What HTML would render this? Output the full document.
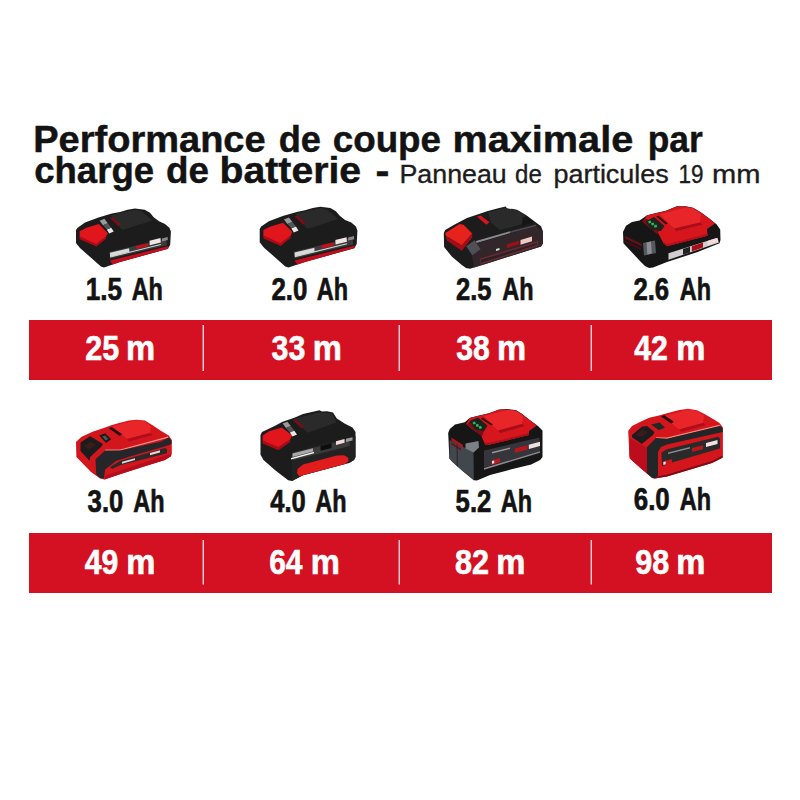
<!DOCTYPE html>
<html><head><meta charset="utf-8"><title>Performance de coupe</title>
<style>
html,body{margin:0;padding:0;background:#fff;}
body{width:800px;height:800px;overflow:hidden;font-family:"Liberation Sans",sans-serif;}
svg{display:block;}
svg text{font-family:"Liberation Sans",sans-serif;}
</style></head><body>
<svg width="800" height="800" viewBox="0 0 800 800">
<rect width="800" height="800" fill="#fff"/>
<rect x="29" y="320" width="743" height="60" fill="#d41122"/>
<rect x="29" y="533" width="743" height="60" fill="#d41122"/>
<rect x="202.6" y="325" width="1.3" height="46" fill="#fff" fill-opacity="0.88"/>
<rect x="202.6" y="540" width="1.3" height="44.5" fill="#fff" fill-opacity="0.88"/>
<rect x="398.6" y="325" width="1.3" height="46" fill="#fff" fill-opacity="0.88"/>
<rect x="398.6" y="540" width="1.3" height="44.5" fill="#fff" fill-opacity="0.88"/>
<rect x="590.6" y="325" width="1.3" height="46" fill="#fff" fill-opacity="0.88"/>
<rect x="590.6" y="540" width="1.3" height="44.5" fill="#fff" fill-opacity="0.88"/>
<defs><filter id="bl" x="-5%" y="-5%" width="110%" height="110%"><feGaussianBlur stdDeviation="0.45"/></filter></defs>
<g filter="url(#bl)">
<polygon points="76.0,230.0 77.6,227.8 85.0,222.6 98.5,217.6 111.9,213.5 120.1,212.0 127.5,209.8 134.9,208.5 144.7,209.8 150.0,212.8 153.7,217.2 159.0,221.3 165.0,223.9 169.4,227.8 170.9,231.5 170.2,244.7 167.9,248.8 120.1,262.0 104.0,267.5 100.9,266.6 80.0,248.0 76.0,243.1" fill="#1c1c1c" />
<polygon points="111.2,215.0 136.0,209.8 141.5,211.6 152.5,220.5 122.2,230.1 112.6,219.1" fill="#2b2b2b" />
<polygon points="79.6,231.2 86.5,227.7 98.9,224.1 107.8,233.2 106.0,236.7 96.1,244.7 79.6,237.0" fill="#e0131f" />
<polygon points="79.6,236.4 96.1,243.9 106.0,236.4 106.0,238.7 96.4,246.6 79.6,239.2" fill="#a80c18" />
<polygon points="99.6,220.8 104.4,218.8 107.8,223.2 103.0,225.3" fill="#9a9a9a" />
<polygon points="106.8,229.4 111.2,227.7 113.7,231.5 109.2,233.6" fill="#e8e8e8" />
<polygon points="103.0,225.3 107.8,223.2 111.2,227.7 106.8,229.4" fill="#555" />
<polygon points="109.9,217.8 112.6,217.1 120.9,224.6 118.1,226.0" fill="#7a0d15" />
<polygon points="109.2,252.1 166.2,238.4 166.9,245.2 109.9,258.7" fill="#3a3a3a" />
<polygon points="109.9,252.8 129.1,248.3 129.4,252.1 110.2,256.9" fill="#d9d9d9" />
<polygon points="136.0,245.9 147.7,243.2 148.0,246.3 136.3,249.1" fill="#c8101c" />
<polygon points="149.5,240.8 160.5,238.1 160.8,242.5 149.8,245.2" fill="#f0e4e4" />
<polygon points="161.9,238.4 167.6,237.0 167.8,240.0 162.0,241.4" fill="#888" />
<polygon points="110.2,256.4 160.8,244.0 160.9,245.0 110.3,257.5" fill="#cfd6d6" />
<polygon points="109.9,260.6 167.9,246.3 168.3,248.7 120.1,262.0 112.6,264.6" fill="#c20f1c" />
</g>
<g filter="url(#bl)">
<polygon points="259.7,228.9 261.2,226.6 268.9,221.2 282.8,216.1 296.7,211.9 305.0,210.3 312.7,208.0 320.3,206.8 330.4,208.0 335.9,211.2 339.7,215.7 345.1,219.9 351.3,222.6 355.9,226.6 357.4,230.4 356.7,244.0 354.3,248.3 305.0,261.9 288.4,267.5 285.3,266.5 263.8,247.4 259.7,242.3" fill="#1c1c1c" />
<polygon points="295.9,213.4 321.4,208.0 327.1,209.9 338.4,219.1 307.3,229.0 297.4,217.7" fill="#2b2b2b" />
<polygon points="263.4,230.1 270.5,226.5 283.2,222.8 292.4,232.1 290.6,235.8 280.4,244.0 263.4,236.1" fill="#e0131f" />
<polygon points="263.4,235.5 280.4,243.2 290.6,235.5 290.6,237.8 280.7,246.0 263.4,238.4" fill="#a80c18" />
<polygon points="283.9,219.4 288.9,217.4 292.4,221.9 287.4,224.0" fill="#9a9a9a" />
<polygon points="291.4,228.3 295.9,226.5 298.5,230.4 293.8,232.5" fill="#e8e8e8" />
<polygon points="287.4,224.0 292.4,221.9 295.9,226.5 291.4,228.3" fill="#555" />
<polygon points="294.5,216.3 297.4,215.5 305.9,223.3 303.0,224.8" fill="#7a0d15" />
<polygon points="293.8,251.7 352.6,237.5 353.3,244.6 294.5,258.5" fill="#3a3a3a" />
<polygon points="294.5,252.4 314.4,247.7 314.6,251.7 294.8,256.6" fill="#d9d9d9" />
<polygon points="321.4,245.3 333.5,242.5 333.8,245.7 321.7,248.5" fill="#c8101c" />
<polygon points="335.3,240.0 346.6,237.2 346.9,241.7 335.6,244.6" fill="#f0e4e4" />
<polygon points="348.1,237.5 354.0,236.1 354.2,239.2 348.2,240.6" fill="#888" />
<polygon points="294.8,256.1 346.9,243.3 347.1,244.3 295.0,257.2" fill="#cfd6d6" />
<polygon points="294.5,260.4 354.3,245.7 354.7,248.1 305.0,261.9 297.4,264.6" fill="#c20f1c" />
</g>
<g filter="url(#bl)">
<polygon points="443.8,233.0 445.2,230.0 454.2,224.8 467.0,218.0 478.2,214.2 487.0,211.2 498.2,208.2 505.8,206.6 507.5,209.6 511.8,208.8 517.0,209.8 526.0,215.0 535.0,221.8 541.0,226.2 543.0,231.5 543.0,243.2 541.0,246.4 487.0,263.4 470.0,268.8 466.0,268.0 461.8,265.0 452.0,256.8 444.1,247.0" fill="#1d1d1e" />
<polygon points="476.0,244.0 536.0,226.0 543.0,231.5 543.0,243.2 541.0,246.4 487.0,263.4 474.0,267.5 472.0,256.0" fill="#30282c" />
<polygon points="476.0,241.0 510.0,231.3 510.5,233.0 476.5,243.0" fill="#8a8a8e" />
<polygon points="510.0,231.3 536.0,224.6 536.5,226.0 510.5,233.0" fill="#4a4a4e" />
<polygon points="488.0,212.5 505.0,207.8 517.0,210.3 525.0,215.5 522.3,224.0 500.0,230.0 491.0,222.5" fill="#2b2b2b" />
<polygon points="522.3,217.5 527.0,216.5 534.0,222.0 522.3,225.5" fill="#141414" />
<polygon points="466.2,246.2 474.5,240.2 480.5,249.2 472.2,255.2" fill="#505056" />
<polygon points="445.2,233.0 459.5,224.0 463.5,224.8 472.2,233.5 461.8,245.5 446.0,236.0" fill="#e6201c" />
<polygon points="446.0,236.0 461.8,245.5 472.2,233.5 472.2,237.5 461.8,250.8 446.8,240.5" fill="#a50e16" />
<polygon points="476.8,216.5 480.8,215.5 489.5,222.3 486.3,224.8" fill="#d2141f" />
<polygon points="480.0,258.5 538.0,241.0 538.3,246.0 480.5,264.6" fill="#6a2a30" />
<polygon points="481.0,259.8 537.0,243.0 537.2,244.8 481.2,262.8" fill="#2a2226" />
<polygon points="507.0,244.3 519.0,240.8 519.0,244.3 507.0,248.0" fill="#a01018" />
<polygon points="520.5,240.0 532.0,236.6 532.0,241.3 520.5,244.8" fill="#f0c8c4" />
<polygon points="496.0,249.0 499.5,248.0 499.5,250.0 496.0,251.0" fill="#dddddd" />
</g>
<g filter="url(#bl)">
<polygon points="623.0,232.0 626.0,225.8 632.0,222.0 639.5,220.5 641.8,219.0 647.0,215.2 656.0,213.0 665.8,210.8 676.8,206.2 685.8,206.2 693.2,207.8 700.8,212.2 709.0,218.2 716.5,224.2 720.2,229.5 720.5,240.0 719.5,243.2 697.0,252.2 667.0,262.0 653.0,267.6 649.2,268.0 645.0,266.0 639.5,260.5 623.4,243.2" fill="#161618" />
<polygon points="643.0,221.0 647.0,215.5 656.0,213.3 665.8,211.0 676.8,206.6 685.8,206.6 693.2,208.0 700.8,212.5 709.0,218.5 715.0,223.5 707.0,229.0 707.5,235.8 667.0,246.2 663.5,243.2 657.5,232.0 650.0,228.0" fill="#d6161f" />
<polygon points="660.0,214.0 686.0,207.5 693.0,208.5 701.0,214.0 700.0,222.5 674.5,228.5 667.0,222.0" fill="#e8252c" />
<polygon points="674.5,228.5 700.0,222.5 703.0,224.5 676.0,231.2" fill="#a8101a" />
<polygon points="663.5,241.5 667.0,244.2 707.5,233.7 707.5,235.8 667.0,246.2 663.5,243.2" fill="#b5111b" />
<polygon points="641.8,221.2 646.0,218.3 660.0,230.0 657.0,234.0" fill="#7a1018" />
<polygon points="645.5,221.5 654.0,217.0 664.5,226.0 661.0,231.0 651.0,229.5" fill="#20201c" />
<polygon points="648.0,221.2 650.6,220.4 651.5,222.8 648.9,223.6" fill="#29b95a" />
<polygon points="651.0,223.2 653.6,222.4 654.5,224.8 651.9,225.6" fill="#29b95a" />
<polygon points="653.8,225.4 656.4,224.6 657.3,227.0 654.7,227.8" fill="#29b95a" />
<polygon points="656.0,216.5 658.5,215.7 668.0,223.5 665.7,224.6" fill="#3a0a0e" />
<polygon points="625.0,236.0 642.0,244.0 642.0,246.6 625.0,238.6" fill="#6a1018" />
<polygon points="625.0,240.5 641.0,248.0 641.0,250.0 625.0,242.6" fill="#4a0c12" />
<polygon points="643.0,243.0 655.0,240.5 656.0,253.0 644.0,255.5" fill="#55585e" />
<polygon points="646.5,242.5 651.0,241.6 651.8,253.6 647.3,254.6" fill="#8a8d92" />
<polygon points="668.5,253.2 715.8,238.2 719.0,242.6 668.5,259.8" fill="#cfcfcf" />
<polygon points="683.0,249.0 690.0,246.8 690.0,252.4 683.0,254.8" fill="#222" />
<polygon points="691.8,246.2 703.0,242.6 703.0,247.6 691.8,251.6" fill="#a81019" />
<polygon points="707.5,241.0 717.5,237.8 718.5,241.5 707.5,245.6" fill="#f4dada" />
</g>
<g filter="url(#bl)">
<polygon points="76.0,442.0 81.2,437.0 92.5,431.8 103.8,428.0 112.0,425.0 120.0,422.8 129.0,420.5 136.5,419.8 144.8,420.5 152.2,425.0 161.2,431.0 168.8,435.5 171.8,440.0 171.8,453.0 171.0,456.2 165.0,460.0 142.5,466.8 120.0,474.2 104.5,479.5 100.0,478.5 91.0,472.0 76.4,457.0" fill="#d3141e" />
<polygon points="112.0,426.0 136.0,420.3 144.0,421.3 151.0,426.0 150.0,433.0 127.0,439.0 119.0,432.5" fill="#e8252c" />
<polygon points="127.0,439.0 150.0,433.0 153.0,435.0 129.0,441.5" fill="#b0101a" />
<polygon points="80.5,442.5 90.2,436.2 103.0,444.0 101.5,446.5 90.2,457.0 89.5,460.8 80.5,451.0" fill="#1f1d1d" />
<polygon points="84.0,446.0 91.0,441.8 96.0,445.0 89.0,449.5" fill="#3a1a1c" />
<polygon points="99.2,435.5 105.2,433.2 111.2,439.2 106.0,443.0" fill="#1a1a1a" />
<polygon points="102.2,436.6 105.0,435.5 108.3,439.0 105.6,440.4" fill="#4a5a52" />
<polygon points="108.8,428.3 111.6,427.0 122.3,434.2 119.8,436.0" fill="#2a0a0c" />
<polygon points="105.2,449.6 120.0,449.4 168.0,436.6 168.4,437.8 120.0,450.7 105.2,450.9" fill="#f28a80" />
<polygon points="95.5,459.2 105.2,450.6 120.0,450.6 161.2,441.6 168.6,437.6 171.5,440.5 171.5,444.0 168.0,445.5 130.0,456.5 116.5,460.8 105.2,469.5 103.8,478.6 100.0,478.0 96.2,474.2" fill="#26282a" />
<polygon points="110.0,467.0 120.0,461.0 165.0,448.0 167.0,449.3 167.0,453.2 120.0,465.3 112.0,469.0" fill="#2c2a2c" />
<polygon points="122.0,461.8 135.0,458.2 135.0,460.0 122.0,463.7" fill="#d8d8d8" />
<polygon points="150.0,453.0 160.0,450.2 160.0,452.5 150.0,455.3" fill="#f0d0d0" />
<polygon points="104.5,479.5 120.0,474.2 165.0,460.0 171.0,456.2 171.5,453.5 120.0,470.5 105.5,475.5" fill="#b5101a" />
</g>
<g filter="url(#bl)">
<polygon points="260.5,435.0 260.5,454.8 263.5,460.0 275.5,470.5 288.2,480.2 292.0,481.0 303.0,475.3 345.0,464.0 349.5,463.0 354.0,460.0 355.5,457.0 355.5,432.0 352.5,427.5 345.0,423.8 336.8,418.5 333.0,412.5 327.0,411.3 322.0,411.5 319.5,410.2 303.0,414.0 294.3,417.7 282.6,421.8 273.6,426.6 262.0,432.0" fill="#1c1c1c" />
<polygon points="294.3,418.7 319.0,412.6 332.1,413.2 336.6,422.2 308.0,432.8 297.7,423.6" fill="#2b2b2b" />
<polygon points="292.5,452.0 355.5,436.0 355.5,457.0 354.0,460.0 345.0,464.0 303.0,475.3 292.0,481.0" fill="#242424" />
<polygon points="262.6,435.6 269.5,431.0 281.9,427.5 292.2,435.6 290.1,439.7 278.4,447.9 262.6,441.1" fill="#e0131f" />
<polygon points="262.6,440.4 278.4,447.0 290.1,439.3 290.1,442.0 278.4,450.3 262.6,443.4" fill="#a80c18" />
<polygon points="282.6,423.6 287.4,421.7 290.8,426.1 286.0,428.0" fill="#9a9a9a" />
<polygon points="286.0,428.0 290.8,426.1 294.3,430.8 289.9,432.4" fill="#555" />
<polygon points="289.9,432.4 294.3,430.8 297.0,434.6 292.5,436.5" fill="#e8e8e8" />
<polygon points="292.9,420.0 295.6,419.3 304.2,426.9 301.4,428.3" fill="#7a0d15" />
<polygon points="292.2,453.0 349.3,439.0 349.9,445.9 292.9,460.3" fill="#3a3a3a" />
<polygon points="292.5,453.5 313.0,448.2 313.0,451.5 292.5,457.0" fill="#a8a8a8" />
<polygon points="291.0,458.0 314.0,451.8 314.0,453.3 291.0,459.6" fill="#f2f2f2" />
<polygon points="320.4,445.9 331.4,443.1 331.7,447.9 320.7,450.8" fill="#111" />
<polygon points="336.0,441.2 344.5,439.0 344.5,442.8 336.0,445.0" fill="#f4dcdc" />
<polygon points="346.0,438.8 352.5,437.2 352.5,440.4 346.0,442.0" fill="#999" />
<polygon points="297.5,469.0 303.0,464.5 336.8,455.5 344.0,455.3 348.0,457.5 348.5,461.0 345.0,464.0 303.0,475.3 299.5,476.5 297.0,473.0" fill="#e01a1e" />
</g>
<g filter="url(#bl)">
<polygon points="448.2,433.0 449.8,429.0 455.0,424.5 464.8,422.2 470.0,417.8 479.0,415.5 488.8,413.2 499.0,409.5 507.2,409.1 516.2,410.2 522.2,414.0 529.8,420.0 538.0,426.0 542.5,430.5 542.5,457.0 540.2,460.0 531.2,464.5 512.5,469.0 490.0,475.0 477.0,480.6 473.8,480.2 462.0,470.5 452.0,461.5 449.4,458.5" fill="#151517" />
<polygon points="449.6,440.0 473.5,452.0 473.8,480.0 462.0,470.5 452.0,461.5 449.6,458.5" fill="#43464d" />
<polygon points="456.6,444.0 457.6,444.5 457.8,466.5 456.8,465.8" fill="#24262a" />
<polygon points="465.5,443.5 478.5,441.0 479.0,447.5 473.5,452.5 465.5,448.5" fill="#7c7f85" />
<polygon points="466.0,424.0 470.0,418.0 479.0,415.8 488.8,413.5 499.0,409.8 507.2,409.4 516.2,410.5 522.2,414.3 529.8,420.3 537.0,425.5 529.0,431.0 529.0,435.0 490.0,444.5 485.0,444.5 481.0,435.0 472.0,429.0" fill="#d6161f" />
<polygon points="484.0,416.0 507.0,410.0 516.0,411.0 523.0,416.0 522.0,424.0 498.0,430.5 491.0,424.0" fill="#e8252c" />
<polygon points="498.0,430.5 522.0,424.0 525.0,426.0 500.0,433.2" fill="#a8101a" />
<polygon points="485.0,442.5 490.0,442.5 529.0,433.0 529.0,435.0 490.0,444.5 485.0,444.5" fill="#b5111b" />
<polygon points="467.0,424.5 470.0,421.0 484.0,431.0 482.0,436.5" fill="#7a1018" />
<polygon points="469.5,421.0 478.0,417.5 487.5,425.8 484.0,431.0 475.0,429.5" fill="#1e201c" />
<polygon points="472.5,422.2 475.0,421.4 475.9,423.8 473.4,424.6" fill="#29b95a" />
<polygon points="475.6,424.6 478.1,423.8 479.0,426.2 476.5,427.0" fill="#29b95a" />
<polygon points="478.6,426.6 481.1,425.8 482.0,428.2 479.5,429.0" fill="#29b95a" />
<polygon points="480.5,418.5 482.7,417.6 493.0,424.4 491.3,425.6" fill="#3a0a0e" />
<polygon points="451.5,437.5 463.0,445.0 463.0,448.0 451.5,440.5" fill="#b0121c" />
<polygon points="451.5,442.5 461.0,448.5 461.0,450.5 451.5,444.5" fill="#6a1018" />
<polygon points="484.0,450.5 539.5,437.5 540.0,451.5 484.0,467.5" fill="#36363a" />
<polygon points="484.0,468.0 540.0,451.2 540.0,452.8 484.0,469.8" fill="#8a8a8e" />
<polygon points="492.0,452.0 510.0,447.6 510.0,449.0 492.0,453.5" fill="#9a9a9a" />
<polygon points="514.8,448.5 527.5,445.3 527.5,449.5 514.8,452.8" fill="#b8141e" />
<polygon points="528.8,444.8 540.0,441.8 540.0,446.0 528.8,449.0" fill="#f0e0e0" />
<polygon points="491.5,460.5 500.0,458.3 500.0,462.3 491.5,464.7" fill="#c8141e" />
<polygon points="492.0,461.0 494.2,460.4 494.2,463.2 492.0,463.8" fill="#f4f4f4" />
</g>
<g filter="url(#bl)">
<polygon points="628.2,431.0 632.0,426.0 641.0,421.5 649.2,417.8 659.0,415.5 667.0,413.2 678.2,410.2 688.0,408.8 697.0,410.2 704.5,414.0 713.5,419.2 719.5,423.0 722.9,427.5 722.9,455.0 722.5,457.8 712.0,463.0 689.5,469.8 667.0,476.5 655.0,478.5 652.2,478.0 641.0,468.5 629.8,458.5 629.4,455.0" fill="#d4151f" />
<polygon points="629.5,438.0 647.0,447.5 647.0,473.5 641.0,468.5 629.8,458.5 629.4,455.0" fill="#bd111b" />
<polygon points="664.0,416.0 688.0,409.5 697.0,411.0 704.0,415.5 703.0,423.0 679.0,429.5 671.5,423.5" fill="#e8252c" />
<polygon points="679.0,429.5 703.0,423.0 706.0,425.0 681.0,432.0" fill="#b0101a" />
<polygon points="632.0,435.0 641.8,426.8 647.0,426.0 654.5,432.0 653.0,435.0 641.8,444.0 632.0,437.2" fill="#1f1d1d" />
<polygon points="636.0,434.5 642.5,429.5 647.5,432.5 641.0,437.5" fill="#3a1a1c" />
<polygon points="651.0,424.6 659.5,422.4 665.0,427.4 659.0,430.2" fill="#1e2a22" />
<polygon points="661.0,416.6 664.0,415.0 674.0,421.8 671.3,423.6" fill="#2a0a0c" />
<polygon points="656.0,437.2 667.0,437.6 719.5,424.8 720.0,425.9 667.0,438.9 656.0,438.6" fill="#f28a80" />
<polygon points="647.0,447.0 656.0,438.0 667.0,438.8 720.0,426.0 722.7,428.5 722.7,432.0 667.0,444.5 661.0,447.0 658.0,452.0 658.0,476.0 655.0,478.5 652.2,478.0 647.0,473.5" fill="#242628" />
<polygon points="661.5,452.5 667.0,449.3 718.0,436.8 720.0,438.2 720.0,448.5 667.0,464.0 662.0,466.5" fill="#2a2c2c" />
<polygon points="668.0,452.5 690.0,447.0 690.0,448.4 668.0,454.0" fill="#8a8a8a" />
<polygon points="692.0,448.0 703.0,445.2 703.0,449.2 692.0,452.0" fill="#b8141e" />
<polygon points="706.0,443.0 717.5,440.0 717.5,444.0 706.0,447.0" fill="#f4e2e2" />
<polygon points="663.0,461.5 672.0,459.0 672.0,463.0 663.0,465.5" fill="#c8141e" />
<polygon points="663.4,462.0 665.6,461.4 665.6,464.2 663.4,464.8" fill="#f4f4f4" />
<polygon points="655.0,478.5 667.0,476.5 712.0,463.0 722.5,457.8 722.8,455.5 712.0,461.0 667.0,474.5 658.0,476.3" fill="#7a0c14" />
</g>
<text x="33.22" y="152.4" font-size="36" font-weight="bold" fill="#131313" stroke="#131313" stroke-width="0.45" textLength="232.45" lengthAdjust="spacingAndGlyphs">Performance</text>
<text x="278.74" y="152.4" font-size="36" font-weight="bold" fill="#131313" stroke="#131313" stroke-width="0.45" textLength="42.28" lengthAdjust="spacingAndGlyphs">de</text>
<text x="332.72" y="152.4" font-size="36" font-weight="bold" fill="#131313" stroke="#131313" stroke-width="0.45" textLength="108.31" lengthAdjust="spacingAndGlyphs">coupe</text>
<text x="452.52" y="152.4" font-size="36" font-weight="bold" fill="#131313" stroke="#131313" stroke-width="0.45" textLength="180.70" lengthAdjust="spacingAndGlyphs">maximale</text>
<text x="647.79" y="152.4" font-size="36" font-weight="bold" fill="#131313" stroke="#131313" stroke-width="0.45" textLength="54.98" lengthAdjust="spacingAndGlyphs">par</text>
<text x="34.23" y="182.6" font-size="36" font-weight="bold" fill="#131313" stroke="#131313" stroke-width="0.45" textLength="119.85" lengthAdjust="spacingAndGlyphs">charge</text>
<text x="166.12" y="182.6" font-size="36" font-weight="bold" fill="#131313" stroke="#131313" stroke-width="0.45" textLength="42.91" lengthAdjust="spacingAndGlyphs">de</text>
<text x="219.55" y="182.6" font-size="36" font-weight="bold" fill="#131313" stroke="#131313" stroke-width="0.45" textLength="141.59" lengthAdjust="spacingAndGlyphs">batterie</text>
<text x="375.55" y="182.6" font-size="36" font-weight="bold" fill="#131313" stroke="#131313" stroke-width="0.45" textLength="13.89" lengthAdjust="spacingAndGlyphs">-</text>
<text x="399.54" y="183" font-size="26" font-weight="normal" fill="#1c1c1c" stroke="#1c1c1c" stroke-width="0.35" textLength="107.11" lengthAdjust="spacingAndGlyphs">Panneau</text>
<text x="515.07" y="183" font-size="26" font-weight="normal" fill="#1c1c1c" stroke="#1c1c1c" stroke-width="0.35" textLength="26.78" lengthAdjust="spacingAndGlyphs">de</text>
<text x="553.44" y="183" font-size="26" font-weight="normal" fill="#1c1c1c" stroke="#1c1c1c" stroke-width="0.35" textLength="115.36" lengthAdjust="spacingAndGlyphs">particules</text>
<text x="678.49" y="183" font-size="26" font-weight="normal" fill="#1c1c1c" stroke="#1c1c1c" stroke-width="0.35" textLength="25.03" lengthAdjust="spacingAndGlyphs">19</text>
<text x="712.07" y="183" font-size="26" font-weight="normal" fill="#1c1c1c" stroke="#1c1c1c" stroke-width="0.35" textLength="48.44" lengthAdjust="spacingAndGlyphs">mm</text>
<text x="85.75" y="299.5" font-size="31.5" font-weight="bold" fill="#131313" stroke="#131313" stroke-width="0.7" textLength="36.41" lengthAdjust="spacingAndGlyphs">1.5</text>
<text x="131.63" y="299.5" font-size="31.5" font-weight="bold" fill="#131313" stroke="#131313" stroke-width="0.7" textLength="31.29" lengthAdjust="spacingAndGlyphs">Ah</text>
<text x="271.38" y="299.5" font-size="31.5" font-weight="bold" fill="#131313" stroke="#131313" stroke-width="0.7" textLength="35.98" lengthAdjust="spacingAndGlyphs">2.0</text>
<text x="316.83" y="299.5" font-size="31.5" font-weight="bold" fill="#131313" stroke="#131313" stroke-width="0.7" textLength="31.29" lengthAdjust="spacingAndGlyphs">Ah</text>
<text x="455.99" y="299.5" font-size="31.5" font-weight="bold" fill="#131313" stroke="#131313" stroke-width="0.7" textLength="35.55" lengthAdjust="spacingAndGlyphs">2.5</text>
<text x="502.23" y="299.5" font-size="31.5" font-weight="bold" fill="#131313" stroke="#131313" stroke-width="0.7" textLength="31.29" lengthAdjust="spacingAndGlyphs">Ah</text>
<text x="633.39" y="299.5" font-size="31.5" font-weight="bold" fill="#131313" stroke="#131313" stroke-width="0.7" textLength="35.76" lengthAdjust="spacingAndGlyphs">2.6</text>
<text x="679.83" y="299.5" font-size="31.5" font-weight="bold" fill="#131313" stroke="#131313" stroke-width="0.7" textLength="31.29" lengthAdjust="spacingAndGlyphs">Ah</text>
<text x="85.33" y="359.7" font-size="35.3" font-weight="bold" fill="#fff" stroke="#fff" stroke-width="0.6" textLength="34.03" lengthAdjust="spacingAndGlyphs">25</text>
<text x="125.95" y="359.7" font-size="35.3" font-weight="bold" fill="#fff" stroke="#fff" stroke-width="0.6" textLength="29.11" lengthAdjust="spacingAndGlyphs">m</text>
<text x="271.57" y="359.7" font-size="35.3" font-weight="bold" fill="#fff" stroke="#fff" stroke-width="0.6" textLength="33.80" lengthAdjust="spacingAndGlyphs">33</text>
<text x="312.65" y="359.7" font-size="35.3" font-weight="bold" fill="#fff" stroke="#fff" stroke-width="0.6" textLength="29.11" lengthAdjust="spacingAndGlyphs">m</text>
<text x="456.17" y="359.7" font-size="35.3" font-weight="bold" fill="#fff" stroke="#fff" stroke-width="0.6" textLength="33.58" lengthAdjust="spacingAndGlyphs">38</text>
<text x="497.05" y="359.7" font-size="35.3" font-weight="bold" fill="#fff" stroke="#fff" stroke-width="0.6" textLength="29.11" lengthAdjust="spacingAndGlyphs">m</text>
<text x="634.19" y="359.7" font-size="35.3" font-weight="bold" fill="#fff" stroke="#fff" stroke-width="0.6" textLength="33.58" lengthAdjust="spacingAndGlyphs">42</text>
<text x="676.25" y="359.7" font-size="35.3" font-weight="bold" fill="#fff" stroke="#fff" stroke-width="0.6" textLength="29.11" lengthAdjust="spacingAndGlyphs">m</text>
<text x="87.59" y="512" font-size="31.5" font-weight="bold" fill="#131313" stroke="#131313" stroke-width="0.7" textLength="35.76" lengthAdjust="spacingAndGlyphs">3.0</text>
<text x="133.23" y="512" font-size="31.5" font-weight="bold" fill="#131313" stroke="#131313" stroke-width="0.7" textLength="31.29" lengthAdjust="spacingAndGlyphs">Ah</text>
<text x="270.20" y="511.6" font-size="31.5" font-weight="bold" fill="#131313" stroke="#131313" stroke-width="0.7" textLength="35.55" lengthAdjust="spacingAndGlyphs">4.0</text>
<text x="315.23" y="511.6" font-size="31.5" font-weight="bold" fill="#131313" stroke="#131313" stroke-width="0.7" textLength="31.29" lengthAdjust="spacingAndGlyphs">Ah</text>
<text x="455.59" y="511.6" font-size="31.5" font-weight="bold" fill="#131313" stroke="#131313" stroke-width="0.7" textLength="35.76" lengthAdjust="spacingAndGlyphs">5.2</text>
<text x="500.83" y="511.6" font-size="31.5" font-weight="bold" fill="#131313" stroke="#131313" stroke-width="0.7" textLength="31.29" lengthAdjust="spacingAndGlyphs">Ah</text>
<text x="633.78" y="510" font-size="31.5" font-weight="bold" fill="#131313" stroke="#131313" stroke-width="0.7" textLength="35.98" lengthAdjust="spacingAndGlyphs">6.0</text>
<text x="679.83" y="510" font-size="31.5" font-weight="bold" fill="#131313" stroke="#131313" stroke-width="0.7" textLength="31.29" lengthAdjust="spacingAndGlyphs">Ah</text>
<text x="84.79" y="574" font-size="35.3" font-weight="bold" fill="#fff" stroke="#fff" stroke-width="0.6" textLength="33.58" lengthAdjust="spacingAndGlyphs">49</text>
<text x="126.25" y="574" font-size="35.3" font-weight="bold" fill="#fff" stroke="#fff" stroke-width="0.6" textLength="29.11" lengthAdjust="spacingAndGlyphs">m</text>
<text x="269.15" y="574" font-size="35.3" font-weight="bold" fill="#fff" stroke="#fff" stroke-width="0.6" textLength="33.36" lengthAdjust="spacingAndGlyphs">64</text>
<text x="310.65" y="574" font-size="35.3" font-weight="bold" fill="#fff" stroke="#fff" stroke-width="0.6" textLength="29.11" lengthAdjust="spacingAndGlyphs">m</text>
<text x="454.95" y="574" font-size="35.3" font-weight="bold" fill="#fff" stroke="#fff" stroke-width="0.6" textLength="34.03" lengthAdjust="spacingAndGlyphs">82</text>
<text x="496.25" y="574" font-size="35.3" font-weight="bold" fill="#fff" stroke="#fff" stroke-width="0.6" textLength="29.11" lengthAdjust="spacingAndGlyphs">m</text>
<text x="635.13" y="574" font-size="35.3" font-weight="bold" fill="#fff" stroke="#fff" stroke-width="0.6" textLength="34.03" lengthAdjust="spacingAndGlyphs">98</text>
<text x="676.25" y="574" font-size="35.3" font-weight="bold" fill="#fff" stroke="#fff" stroke-width="0.6" textLength="29.11" lengthAdjust="spacingAndGlyphs">m</text>
</svg>
</body></html>
